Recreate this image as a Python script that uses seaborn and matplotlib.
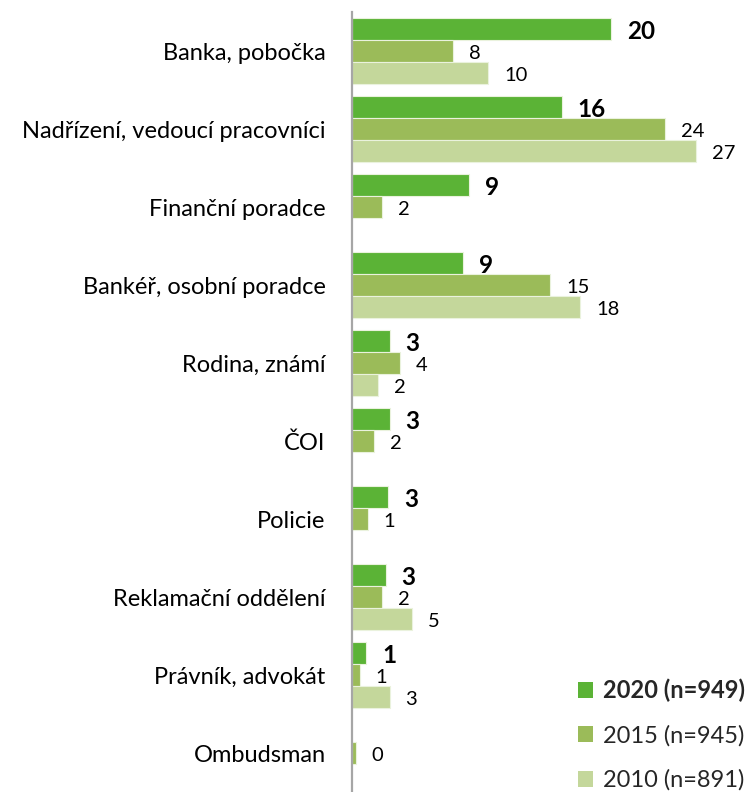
import numpy as np
import pandas as pd
import matplotlib
matplotlib.use("Agg")
import matplotlib.pyplot as plt
import seaborn as sns
from matplotlib.patches import Patch

# Categories (top to bottom) and shares in % per survey wave
categories = [
    "Banka, pobočka",
    "Nadřízení, vedoucí pracovníci",
    "Finanční poradce",
    "Bankéř, osobní poradce",
    "Rodina, známí",
    "ČOI",
    "Policie",
    "Reklamační oddělení",
    "Právník, advokát",
    "Ombudsman",
]
values_2020 = [20.0, 16.2, 9.0, 8.6, 2.9, 2.9, 2.8, 2.6, 1.1, np.nan]
values_2015 = [7.8, 24.2, 2.3, 15.3, 3.7, 1.7, 1.2, 2.3, 0.6, 0.3]
values_2010 = [10.5, 26.6, np.nan, 17.6, 2.0, np.nan, np.nan, 4.6, 2.9, np.nan]

series_labels = ["2020 (n=949)", "2015 (n=945)", "2010 (n=891)"]
series_colors = ["#5BB336", "#9BBB59", "#C4D79B"]

rows = []
for label, vals in zip(series_labels, [values_2020, values_2015, values_2010]):
    for cat, v in zip(categories, vals):
        if not np.isnan(v):
            rows.append({"kategorie": cat, "hodnota": v, "rok": label})
df = pd.DataFrame(rows)

sns.set_style("white")
plt.rcParams["font.family"] = ["Lato", "DejaVu Sans"]

fig = plt.figure(figsize=(7.48, 7.92), dpi=100)
ax = fig.add_axes([352 / 748, 0.0, 388.5 / 748, 780 / 792])

sns.barplot(
    data=df, y="kategorie", x="hodnota", hue="rok",
    order=categories, hue_order=series_labels,
    palette=series_colors, saturation=1, orient="h", width=0.846, dodge=True,
    edgecolor="#EAF2DD", linewidth=0.8, errorbar=None, ax=ax,
)

ax.set_xlim(0, 30)
ax.set_ylim(9.5, -0.5)
ax.set_xlabel("")
ax.set_ylabel("")

# value labels next to each bar
for i, container in enumerate(ax.containers):
    bold = i == 0
    for bar in container:
        w = bar.get_width()
        if np.isnan(w):
            continue
        yc = bar.get_y() + bar.get_height() / 2
        ax.annotate(
            f"{w:.0f}", xy=(w, yc), xytext=(11.5, -1.5), textcoords="offset points",
            ha="left", va="center",
            fontsize=17.5 if bold else 14.5,
            fontweight="bold" if bold else "normal", color="#000000",
        )

# spines and ticks: only the left axis line with boundary ticks
for side in ["top", "right", "bottom"]:
    ax.spines[side].set_visible(False)
ax.spines["left"].set_color("#A6A6A6")
ax.spines["left"].set_linewidth(1.6)
ax.set_xticks([])
ax.set_yticks(np.arange(-0.5, 10, 1.0))
ax.set_yticklabels([])
ax.tick_params(axis="y", which="major", direction="out", length=6,
               width=1.4, color="#A6A6A6")
ax.set_yticks(np.arange(len(categories)), minor=True)
ax.set_yticklabels(categories, minor=True, fontsize=17, color="#000000")
ax.tick_params(axis="y", which="minor", length=0, pad=19)

# legend
if ax.get_legend() is not None:
    ax.get_legend().remove()
handles = [Patch(facecolor=c, edgecolor="none") for c in series_colors]
leg = fig.legend(
    handles, series_labels, loc="lower left",
    bbox_to_anchor=(578 / 748, 1 / 792), bbox_transform=fig.transFigure,
    frameon=False, fontsize=17, handlelength=0.65, handleheight=0.65,
    handletextpad=0.4, labelspacing=0.97, borderpad=0, borderaxespad=0,
)
leg.get_texts()[0].set_fontweight("bold")

fig.savefig("out.png", dpi=100)
